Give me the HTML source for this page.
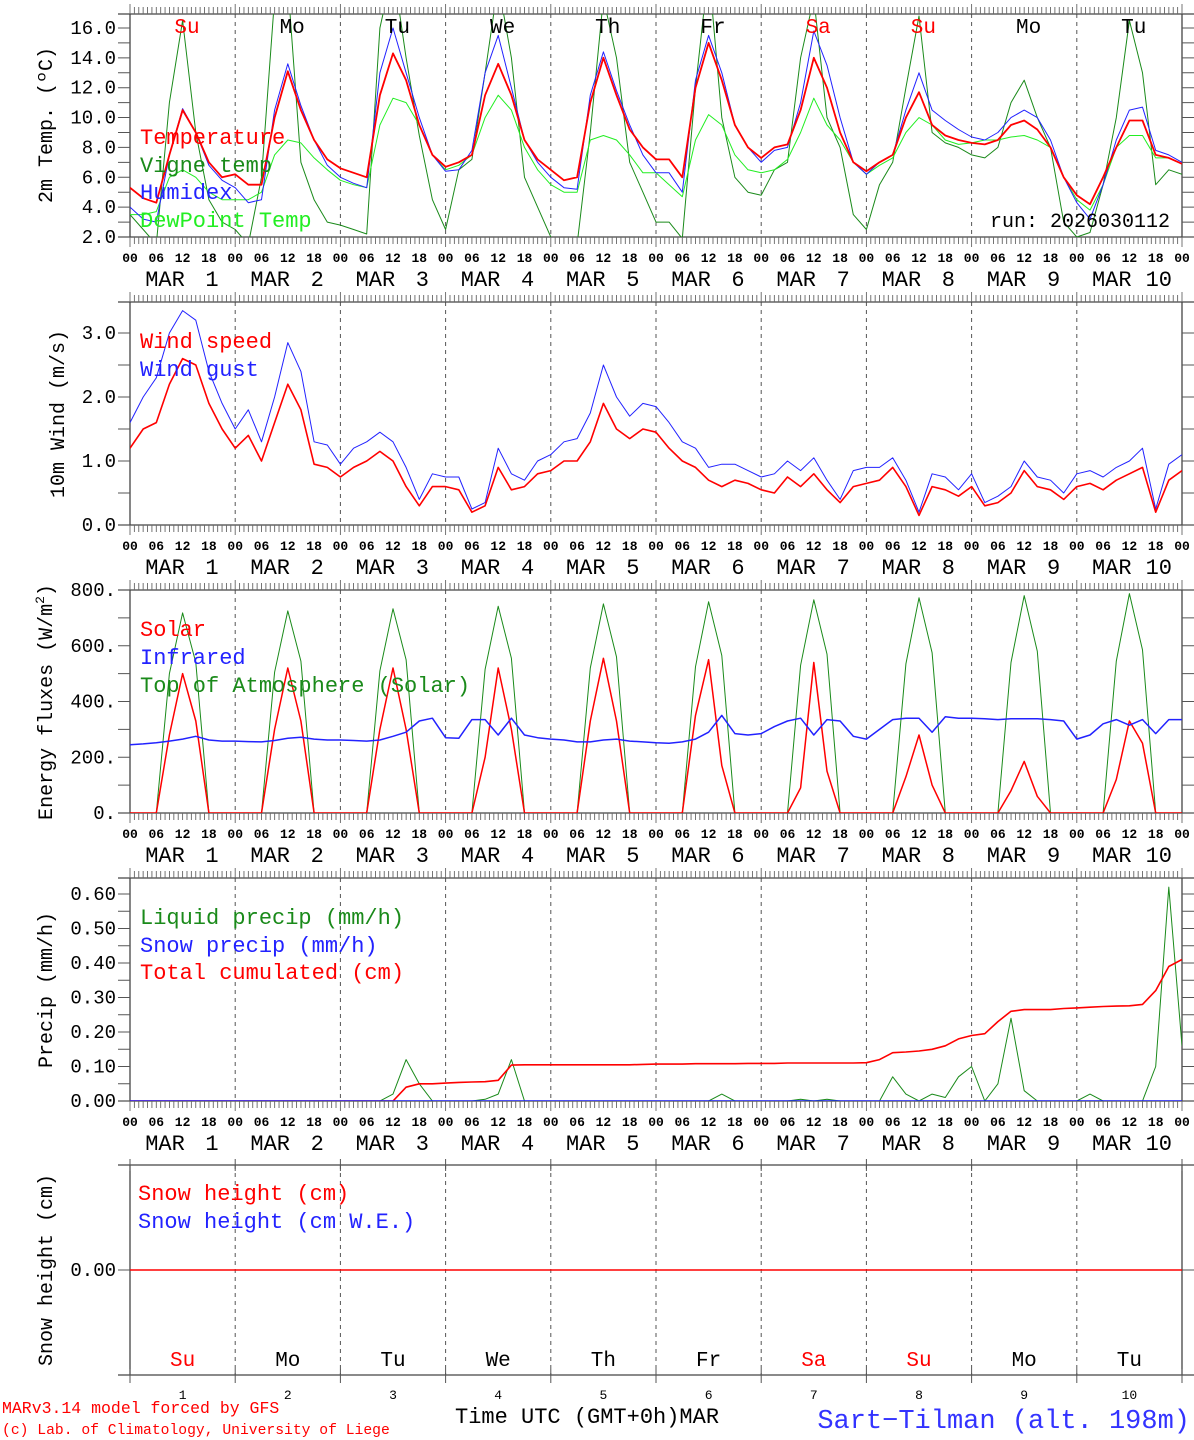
<!DOCTYPE html>
<html><head><meta charset="utf-8">
<style>
html,body{margin:0;padding:0;background:#fff;}
svg{display:block;font-family:"Liberation Mono","DejaVu Sans Mono",monospace;}
</style></head>
<body>
<svg id="chart" width="1194" height="1440" viewBox="0 0 1194 1440" xmlns="http://www.w3.org/2000/svg">
<rect x="0" y="0" width="1194" height="1440" fill="#fff"/>
<g id="frames"></g>
<g id="series"></g>
<g id="texts"></g>
</svg>
<script>
// ===== DATA (3-hourly values, 81 points each, from MAR 1 00h to MAR 11 00h) =====
const days = ["Su","Mo","Tu","We","Th","Fr","Sa","Su","Mo","Tu"];
const dayColors = ["red","#000","#000","#000","#000","#000","red","red","#000","#000"];
const dayNums = ["1","2","3","4","5","6","7","8","9","10"];
const hourLabels = ["00","06","12","18"];
const tempTicks = ["2.0","4.0","6.0","8.0","10.0","12.0","14.0","16.0"];
const windTicks = ["0.0","1.0","2.0","3.0"];
const energyTicks = ["0.","200.","400.","600.","800."];
const precipTicks = ["0.00","0.10","0.20","0.30","0.40","0.50","0.60"];

const temperature = [5.3,4.6,4.3,7.5,10.5,9.0,7.0,6.0, 6.2,5.5,5.5,10,13.1,10.5,8.5,7.2, 6.6,6.3,6.0,11.5,14.3,12.5,9.5,7.5, 6.7,7.0,7.5,11.5,13.6,11.5,8.5,7.2, 6.5,5.8,6.0,11.0,14.0,11.5,9.2,8.0, 7.2,7.2,6.0,12,15.0,12.5,9.5,8.0, 7.3,8.0,8.2,10.5,14.0,12.0,9.0,7.0, 6.4,7.0,7.5,10,11.7,9.5,8.8,8.5, 8.3,8.2,8.5,9.5,9.8,9.2,8.0,6.0, 4.8,4.2,6.0,8.0,9.8,9.8,7.5,7.3, 6.9];
const humidex = [4.0,3.2,3.0,7.5,10.6,9.0,6.8,5.8, 5.3,4.3,4.5,10.5,13.6,10.8,8.5,6.8, 6.0,5.6,5.3,13,16.0,13,10,7.5, 6.4,6.5,7.8,13,15.5,12.0,8.5,7.0, 6.0,5.3,5.2,11.5,14.4,11.8,9.5,7.5, 6.3,6.3,5.0,12.5,15.5,13,9.5,8.0, 7.0,7.8,8.0,11.0,15.8,13.5,10,7.0, 6.2,7.0,7.5,10.5,13.0,10.5,9.8,9.2, 8.7,8.5,9.0,10.0,10.5,10.0,8.5,6.0, 4.3,3.2,5.5,8.5,10.5,10.7,7.8,7.5, 7.0];
const dewpoint = [3.5,3.5,3.7,6.0,6.5,6.0,5.0,4.5, 4.5,4.5,5.0,7.5,8.5,8.3,7.3,6.5, 5.8,5.5,5.3,9.5,11.3,11.0,9.5,7.5, 6.5,6.8,7.5,10.0,11.5,10.5,8.0,6.5, 5.5,5.0,5.0,8.5,8.8,8.5,7.5,6.3, 6.3,5.5,4.7,8.5,10.2,9.5,7.5,6.5, 6.3,6.5,7.2,9.0,11.3,9.5,8.5,7.0, 6.2,6.8,7.3,9.0,10.0,9.5,8.5,8.2, 8.3,8.5,8.5,8.7,8.8,8.5,8.0,6.0, 4.5,3.8,5.5,8.0,8.8,8.8,7.3,7.3, 6.9];
const vigne = [3.5,2.5,1.5,11,16.5,9,4.5,3.0, 2.5,1.5,6,18,19,7,4.5,3.0, 2.8,2.5,2.2,16,20,14,8.8,4.5, 2.5,6.5,7.2,13,19,14,6,4, 2.0,1.5,1.5,9,18,14,7,5, 3.0,3.0,1.9,12,20,10,6,5, 4.8,6.5,7.0,14,18,10,8,3.5, 2.5,5.5,7.0,12,16.8,9,8.3,8.0, 7.5,7.3,8,11,12.5,10,8,3.0, 2.0,2.3,5.5,10,16.5,13,5.5,6.5, 6.2];

const windSpeed = [1.2,1.5,1.6,2.2,2.6,2.5,1.9,1.5, 1.2,1.4,1.0,1.6,2.2,1.8,0.95,0.9, 0.75,0.9,1.0,1.15,1.0,0.6,0.3,0.6, 0.6,0.55,0.2,0.3,0.9,0.55,0.6,0.8, 0.85,1.0,1.0,1.3,1.9,1.5,1.35,1.5, 1.45,1.2,1.0,0.9,0.7,0.6,0.7,0.65, 0.55,0.5,0.75,0.6,0.8,0.55,0.35,0.6, 0.65,0.7,0.9,0.6,0.15,0.6,0.55,0.45, 0.6,0.3,0.35,0.5,0.85,0.6,0.55,0.4, 0.6,0.65,0.55,0.7,0.8,0.9,0.2,0.7, 0.85];
const windGust = [1.6,2.0,2.3,3.0,3.35,3.2,2.4,1.9, 1.5,1.8,1.3,2.0,2.85,2.4,1.3,1.25, 0.95,1.2,1.3,1.45,1.3,0.9,0.4,0.8, 0.75,0.75,0.25,0.35,1.2,0.8,0.7,1.0, 1.1,1.3,1.35,1.75,2.5,2.0,1.7,1.9, 1.85,1.6,1.3,1.2,0.9,0.95,0.95,0.85, 0.75,0.8,1.0,0.85,1.05,0.7,0.4,0.85, 0.9,0.9,1.05,0.7,0.2,0.8,0.75,0.55, 0.8,0.35,0.45,0.6,1.0,0.75,0.7,0.5, 0.8,0.85,0.75,0.9,1.0,1.2,0.25,0.95, 1.1];

const toa = [0,0,0,500,718,540,0,0, 0,0,0,505,725,545,0,0, 0,0,0,510,733,550,0,0, 0,0,0,515,742,555,0,0, 0,0,0,520,750,560,0,0, 0,0,0,525,758,565,0,0, 0,0,0,530,765,570,0,0, 0,0,0,535,772,575,0,0, 0,0,0,540,780,580,0,0, 0,0,0,545,787,585,0,0, 0];
const solar = [0,0,0,280,500,330,0,0, 0,0,0,300,520,330,0,0, 0,0,0,300,520,300,0,0, 0,0,0,200,520,300,0,0, 0,0,0,330,555,330,0,0, 0,0,0,350,550,170,0,0, 0,0,0,90,540,150,0,0, 0,0,0,130,280,100,0,0, 0,0,0,80,185,60,0,0, 0,0,0,120,330,250,0,0, 0];
const infrared = [245,248,252,258,265,275,262,258, 258,256,255,260,268,272,265,262, 262,260,258,262,275,290,330,340, 270,268,335,335,280,340,280,270, 265,262,255,255,262,265,258,255, 252,250,255,265,290,350,285,280, 285,310,330,340,280,335,330,275, 265,300,335,340,340,290,345,340, 340,338,335,338,338,338,335,330, 265,280,320,335,315,335,285,335, 335];

const liquid = [0,0,0,0,0,0,0,0, 0,0,0,0,0,0,0,0, 0,0,0,0,0.02,0.12,0.05,0, 0,0,0,0.005,0.02,0.12,0,0, 0,0,0,0,0,0,0,0, 0,0,0,0,0,0.02,0,0, 0,0,0,0.005,0,0.005,0,0, 0,0,0.07,0.02,0,0.02,0.01,0.07, 0.1,0,0.05,0.24,0.03,0,0,0, 0,0.02,0,0,0,0,0.1,0.62, 0.16];
const snowPrecip = [0,0,0,0,0,0,0,0, 0,0,0,0,0,0,0,0, 0,0,0,0,0,0,0,0, 0,0,0,0,0,0,0,0, 0,0,0,0,0,0,0,0, 0,0,0,0,0,0,0,0, 0,0,0,0,0,0,0,0, 0,0,0,0,0,0,0,0, 0,0,0,0,0,0,0,0, 0,0,0,0,0,0,0,0, 0];
const totalCum = [0,0,0,0,0,0,0,0, 0,0,0,0,0,0,0,0, 0,0,0,0,0,0.04,0.05,0.05, 0.052,0.054,0.055,0.056,0.06,0.104,0.105,0.105, 0.105,0.105,0.105,0.105,0.105,0.105,0.105,0.106, 0.107,0.107,0.107,0.108,0.108,0.108,0.108,0.109, 0.109,0.109,0.11,0.11,0.11,0.11,0.11,0.11, 0.111,0.12,0.14,0.142,0.145,0.15,0.16,0.18, 0.19,0.195,0.23,0.26,0.265,0.265,0.265,0.268, 0.27,0.272,0.274,0.275,0.276,0.28,0.32,0.39, 0.41];
const snowHeight = [0,0,0,0,0,0,0,0, 0,0,0,0,0,0,0,0, 0,0,0,0,0,0,0,0, 0,0,0,0,0,0,0,0, 0,0,0,0,0,0,0,0, 0,0,0,0,0,0,0,0, 0,0,0,0,0,0,0,0, 0,0,0,0,0,0,0,0, 0,0,0,0,0,0,0,0, 0,0,0,0,0,0,0,0, 0];

// ===== LAYOUT =====
const NS = "http://www.w3.org/2000/svg";
const X0 = 130, X1 = 1182, HOURS = 240;
const xOf = h => X0 + h * (X1 - X0) / HOURS;
const frames = document.getElementById('frames');
const seriesG = document.getElementById('series');
const texts = document.getElementById('texts');

function mk(tag, attrs, parent, txt) {
  const e = document.createElementNS(NS, tag);
  for (const k in attrs) e.setAttribute(k, attrs[k]);
  if (txt !== undefined) e.textContent = txt;
  parent.appendChild(e);
  return e;
}

const panels = [
  {id:'temp', top:14, bottom:237, v0:2, y0:237, k:14.93},
  {id:'wind', top:302, bottom:525, v0:0, y0:525, k:64},
  {id:'energy', top:590, bottom:813, v0:0, y0:813, k:223/800},
  {id:'precip', top:878, bottom:1101, v0:0, y0:1101, k:345},
  {id:'snow', top:1165, bottom:1375, v0:0, y0:1270, k:1000}
];
const yOf = (p, v) => p.y0 - (v - p.v0) * p.k;

const defs = mk('defs', {}, document.getElementById('chart'));
panels.forEach(p => {
  const cp = mk('clipPath', {id:'clip-' + p.id}, defs);
  mk('rect', {x:X0, y:p.top, width:X1 - X0, height:p.bottom - p.top}, cp);
});

function drawFrame(p, full) {
  const g = mk('g', {}, frames);
  
  
  for (let d = 1; d < 10; d++) {
    const x = xOf(d * 24);
    mk('line', {x1:x, x2:x, y1:p.top, y2:p.bottom, stroke:'#555', 'stroke-width':1, 'stroke-dasharray':'4,4'}, g);
  }
  mk('line', {x1:X0, x2:X0, y1:p.top, y2:p.bottom, stroke:'#444', 'stroke-width':1.3}, g);
  mk('line', {x1:X1, x2:X1, y1:p.top, y2:p.bottom, stroke:'#444', 'stroke-width':1.3}, g);
  mk('line', {x1:X0 - 12, x2:X1 + 12, y1:p.top, y2:p.top, stroke:'#444', 'stroke-width':1.3}, g);
  mk('line', {x1:X0 - 12, x2:X1 + 12, y1:p.bottom, y2:p.bottom, stroke:'#444', 'stroke-width':1.3}, g);
  if (full) {
    let d = '';
    for (let h = 0; h <= HOURS; h++) {
      const x = xOf(h);
      const len = (h % 24 === 0) ? 10 : 7;
      d += `M${x},${p.top}v${-len}M${x},${p.bottom}v${len}`;
    }
    mk('path', {d:d, stroke:'#666', 'stroke-width':0.9, fill:'none'}, g);
  } else {
    let d = '';
    for (let dd = 0; dd <= 10; dd++) {
      const x = xOf(dd * 24);
      d += `M${x},${p.top - 6}v12M${x},${p.bottom - 6}v14`;
    }
    mk('path', {d:d, stroke:'#555', 'stroke-width':1, fill:'none'}, g);
  }
}

function yTicks(p, labels, vals, minorVals) {
  const g = mk('g', {}, texts);
  
  
  let d = '';
  minorVals.forEach(v => { const y = yOf(p, v); d += `M${X0 - 12},${y}h12M${X1},${y}h12`; });
  mk('path', {d:d, stroke:'#555', 'stroke-width':1, fill:'none'}, g);
  labels.forEach((l, i) => {
    const t = mk('text', {x:116, y:yOf(p, vals[i]) + 6, 'text-anchor':'end', 'font-size':19, fill:'#000'}, g, l);
    
    
  });
}

function xLabels(p) {
  const g = mk('g', {}, texts);
  
  
  for (let h = 0; h <= HOURS; h += 6) {
    const t = mk('text', {x:xOf(h), y:p.bottom + 25, 'text-anchor':'middle', 'font-size':13, 'font-weight':'bold', fill:'#000'}, g, hourLabels[(h / 6) % 4]);
    
    
  }
  for (let d = 0; d < 10; d++) {
    const xs = xOf(d * 24);
    const t1 = mk('text', {x:xs + 35, y:p.bottom + 49, 'text-anchor':'middle', 'font-size':22, fill:'#000'}, g, 'MAR');
    
    
    const t2 = mk('text', {x:xs + 82, y:p.bottom + 49, 'text-anchor':'middle', 'font-size':22, fill:'#000'}, g, dayNums[d]);
    
    
  }
}

function series(p, arr, color, width, name) {
  let d = '';
  arr.forEach((v, i) => { d += (i ? 'L' : 'M') + xOf(i * 3).toFixed(1) + ',' + yOf(p, v).toFixed(1); });
  const e = mk('path', {d:d, stroke:color, 'stroke-width':width, fill:'none', 'clip-path':'url(#clip-' + p.id + ')', 'stroke-linejoin':'round'}, seriesG);
  
  
}

function legend(x, y, label, color, name, size) {
  const t = mk('text', {x:x, y:y, 'font-size':size || 22, fill:color}, texts, label);
  
  
}

function yTitle(x, y, label, name) {
  const t = mk('text', {x:0, y:0, 'font-size':20, fill:'#000', 'text-anchor':'middle', transform:`translate(${x},${y}) rotate(-90)`}, texts, label);
  
  
  return t;
}

const P = panels;
// ===== PANEL 1 =====
drawFrame(P[0], true);
yTicks(P[0], tempTicks, [2,4,6,8,10,12,14,16], [2,3,4,5,6,7,8,9,10,11,12,13,14,15,16]);
xLabels(P[0]);
series(P[0], vigne, '#1a8a1a', 1, 'vigne-temp-line');
series(P[0], dewpoint, '#22ee22', 1, 'dewpoint-line');
series(P[0], humidex, '#2222ff', 1, 'humidex-line');
series(P[0], temperature, '#ff0000', 1.8, 'temperature-line');
days.forEach((d, i) => {
  const t = mk('text', {x:xOf(i * 24 + 13), y:33, 'text-anchor':'middle', 'font-size':21, fill:dayColors[i]}, texts, d);
  
  
});
legend(140, 144, 'Temperature', '#ff0000', 'legend-temperature');
legend(140, 172, 'Vigne temp', '#1a8a1a', 'legend-vigne-temp');
legend(140, 199, 'Humidex', '#2222ff', 'legend-humidex');
legend(140, 227, 'DewPoint Temp', '#22ee22', 'legend-dewpoint');
legend(990, 227, 'run: 2026030112', '#000', 'run-label', 20);
yTitle(52, 125, '2m Temp. (ºC)', 'temp-y-axis-title');

// ===== PANEL 2 =====
drawFrame(P[1], true);
yTicks(P[1], windTicks, [0,1,2,3], [0,0.5,1,1.5,2,2.5,3]);
xLabels(P[1]);
series(P[1], windGust, '#2222ff', 1, 'wind-gust-line');
series(P[1], windSpeed, '#ff0000', 1.6, 'wind-speed-line');
legend(140, 348, 'Wind speed', '#ff0000', 'legend-wind-speed');
legend(140, 376, 'Wind gust', '#2222ff', 'legend-wind-gust');
yTitle(64, 414, '10m Wind (m/s)', 'wind-y-axis-title');

// ===== PANEL 3 =====
drawFrame(P[2], true);
yTicks(P[2], energyTicks, [0,200,400,600,800], [0,100,200,300,400,500,600,700,800]);
xLabels(P[2]);
series(P[2], toa, '#1a8a1a', 1, 'toa-solar-line');
series(P[2], solar, '#ff0000', 1.5, 'solar-line');
series(P[2], infrared, '#2222ff', 1.5, 'infrared-line');
legend(140, 636, 'Solar', '#ff0000', 'legend-solar');
legend(140, 664, 'Infrared', '#2222ff', 'legend-infrared');
legend(140, 692, 'Top of Atmosphere (Solar)', '#1a8a1a', 'legend-toa');
(function(){
  const t = yTitle(52, 702, '', 'energy-y-axis-title');
  t.textContent = 'Energy fluxes (W/m';
  mk('tspan', {'font-size':13, dy:-8}, t, '2');
  mk('tspan', {dy:8}, t, ')');
})();

// ===== PANEL 4 =====
drawFrame(P[3], true);
yTicks(P[3], precipTicks, [0,0.1,0.2,0.3,0.4,0.5,0.6], [0,0.05,0.1,0.15,0.2,0.25,0.3,0.35,0.4,0.45,0.5,0.55,0.6]);
xLabels(P[3]);
series(P[3], liquid, '#1a8a1a', 1, 'liquid-precip-line');
series(P[3], totalCum, '#ff0000', 1.6, 'total-cumulated-line');
series(P[3], snowPrecip, '#2222ff', 1.6, 'snow-precip-line');
legend(140, 924, 'Liquid precip (mm/h)', '#1a8a1a', 'legend-liquid-precip');
legend(140, 952, 'Snow precip (mm/h)', '#2222ff', 'legend-snow-precip');
legend(140, 979, 'Total cumulated (cm)', '#ff0000', 'legend-total-cumulated');
yTitle(52, 990, 'Precip (mm/h)', 'precip-y-axis-title');

// ===== PANEL 5 =====
drawFrame(P[4], false);
yTicks(P[4], ['0.00'], [0], [0]);
series(P[4], snowHeight, '#ff0000', 1.4, 'snow-height-line');
legend(138, 1200, 'Snow height (cm)', '#ff0000', 'legend-snow-height');
legend(138, 1228, 'Snow height (cm W.E.)', '#2222ff', 'legend-snow-we');
yTitle(52, 1270, 'Snow height (cm)', 'snow-y-axis-title');
days.forEach((d, i) => {
  const t = mk('text', {x:xOf(i * 24 + 12), y:1366, 'text-anchor':'middle', 'font-size':21, fill:dayColors[i]}, texts, d);
  
  
  const n = mk('text', {x:xOf(i * 24 + 12), y:1399, 'text-anchor':'middle', 'font-size':13, fill:'#000'}, texts, dayNums[i]);
  
  
});
legend(455, 1423, 'Time UTC (GMT+0h)MAR', '#000', 'x-axis-title', 22);
legend(2, 1413, 'MARv3.14 model forced by GFS', '#ff0000', 'model-credit', 16.5);
legend(2, 1434, '(c) Lab. of Climatology, University of Liege', '#ff0000', 'lab-credit', 14.7);
const st = mk('text', {x:1190, y:1428, 'text-anchor':'end', 'font-size':27, fill:'#3333ff'}, texts, 'Sart−Tilman (alt. 198m)');


</script>
</body></html>
